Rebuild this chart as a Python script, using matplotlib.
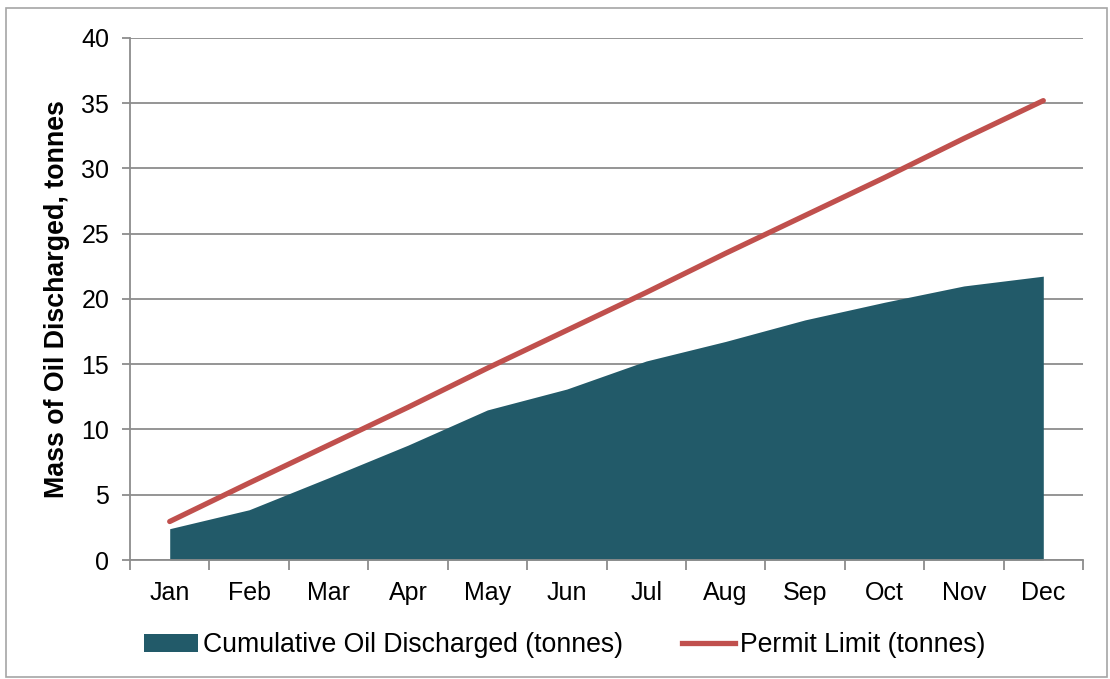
import numpy as np
import matplotlib.pyplot as plt
from matplotlib.patches import Rectangle
from matplotlib.lines import Line2D
from matplotlib.patches import Patch

plt.rcParams['font.family'] = ['Liberation Sans', 'DejaVu Sans']

months = ['Jan', 'Feb', 'Mar', 'Apr', 'May', 'Jun', 'Jul', 'Aug', 'Sep', 'Oct', 'Nov', 'Dec']
cumulative_oil = [2.4, 3.85, 6.3, 8.8, 11.5, 13.1, 15.25, 16.75, 18.4, 19.75, 21.0, 21.75]
permit_limit = [2.95, 5.9, 8.8, 11.7, 14.7, 17.6, 20.5, 23.5, 26.4, 29.3, 32.3, 35.2]

area_color = '#225A69'
line_color = '#C0504D'
grid_color = '#8C8C8C'

fig = plt.figure(figsize=(11.10, 6.79), dpi=100)
ax = fig.add_axes([130 / 1110, 1 - 560 / 679, 953 / 1110, 522 / 679])

x = np.arange(len(months))
ax.fill_between(x, 0, cumulative_oil, color=area_color, linewidth=0, zorder=2)
ax.plot(x, permit_limit, color=line_color, linewidth=3.8, solid_capstyle='round', zorder=3)

ax.set_xlim(-0.5, 11.5)
ax.set_ylim(0, 40)
ax.set_yticks(range(0, 41, 5))
ax.yaxis.grid(True, color=grid_color, linewidth=1.3, zorder=1)
ax.set_axisbelow(True)

# month labels at centres, tick marks on category boundaries
ax.set_xticks(x)
ax.set_xticklabels(months)
ax.set_xticks(np.arange(-0.5, 12, 1), minor=True)
ax.tick_params(axis='x', which='major', length=0, pad=15, labelsize=18)
ax.tick_params(axis='x', which='minor', length=7, width=1.3, color=grid_color)
ax.tick_params(axis='y', length=6, width=1.3, color=grid_color, labelsize=18, pad=9)

for side in ['top', 'right']:
    ax.spines[side].set_visible(False)
for side in ['left', 'bottom']:
    ax.spines[side].set_color(grid_color)
    ax.spines[side].set_linewidth(1.3)

ax.set_ylabel('Mass of Oil Discharged, tonnes', fontsize=19.3, fontweight='bold')
ax.yaxis.set_label_coords(-0.063, 0.5)

handles = [Patch(facecolor=area_color, edgecolor='none'),
           Line2D([0], [0], color=line_color, linewidth=3.8)]
fig.legend(handles, ['Cumulative Oil Discharged (tonnes)', 'Permit Limit (tonnes)'],
           loc='center', bbox_to_anchor=(565 / 1110, 1 - 645 / 679), ncol=2,
           frameon=False, fontsize=19.2, handlelength=2.0, handleheight=0.65,
           handletextpad=0.2, columnspacing=2.2, borderpad=0, borderaxespad=0)

# thin frame round the whole chart
fig.patches.append(Rectangle((6 / 1110, 2 / 679), 1101 / 1110, 669 / 679,
                             transform=fig.transFigure, fill=False,
                             edgecolor='#A6A6A6', linewidth=1.2))

fig.savefig('out.png', dpi=100)
